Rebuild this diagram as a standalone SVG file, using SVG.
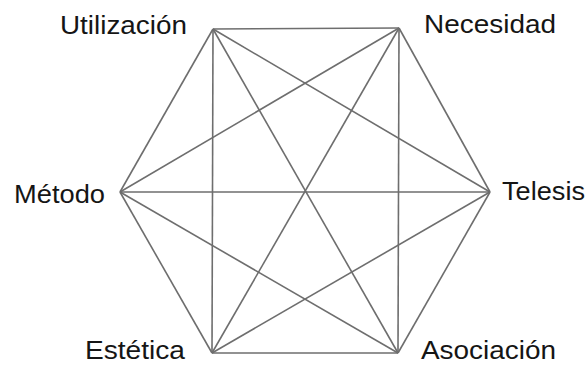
<svg xmlns="http://www.w3.org/2000/svg" width="588" height="366" viewBox="0 0 588 366">
<style>
.lbl{font-family:"Liberation Sans",Arial,sans-serif;font-size:26px;fill:#151515}
.e{stroke:#6e6e6e;stroke-width:1.6;fill:none}
</style>
<rect width="588" height="366" fill="#fff"/>
<g id="connectors">
<line class="e" x1="213" y1="29" x2="399" y2="28"/>
<line class="e" x1="213" y1="29" x2="490" y2="192"/>
<line class="e" x1="213" y1="29" x2="398" y2="353"/>
<line class="e" x1="213" y1="29" x2="212" y2="353"/>
<line class="e" x1="213" y1="29" x2="120" y2="192"/>
<line class="e" x1="399" y1="28" x2="490" y2="192"/>
<line class="e" x1="399" y1="28" x2="398" y2="353"/>
<line class="e" x1="399" y1="28" x2="212" y2="353"/>
<line class="e" x1="399" y1="28" x2="120" y2="192"/>
<line class="e" x1="490" y1="192" x2="398" y2="353"/>
<line class="e" x1="490" y1="192" x2="212" y2="353"/>
<line class="e" x1="490" y1="192" x2="120" y2="192"/>
<line class="e" x1="398" y1="353" x2="212" y2="353"/>
<line class="e" x1="398" y1="353" x2="120" y2="192"/>
<line class="e" x1="212" y1="353" x2="120" y2="192"/>
</g>
<g id="utilizacion"><text class="lbl" x="60" y="34" textLength="127" lengthAdjust="spacingAndGlyphs">Utilización</text></g>
<g id="necesidad"><text class="lbl" x="424" y="33" textLength="132" lengthAdjust="spacingAndGlyphs">Necesidad</text></g>
<g id="metodo"><text class="lbl" x="14" y="203" textLength="91" lengthAdjust="spacingAndGlyphs">Método</text></g>
<g id="telesis"><text class="lbl" x="502" y="200" textLength="83" lengthAdjust="spacingAndGlyphs">Telesis</text></g>
<g id="estetica"><text class="lbl" x="85" y="359" textLength="100" lengthAdjust="spacingAndGlyphs">Estética</text></g>
<g id="asociacion"><text class="lbl" x="421" y="359" textLength="135" lengthAdjust="spacingAndGlyphs">Asociación</text></g>
</svg>
